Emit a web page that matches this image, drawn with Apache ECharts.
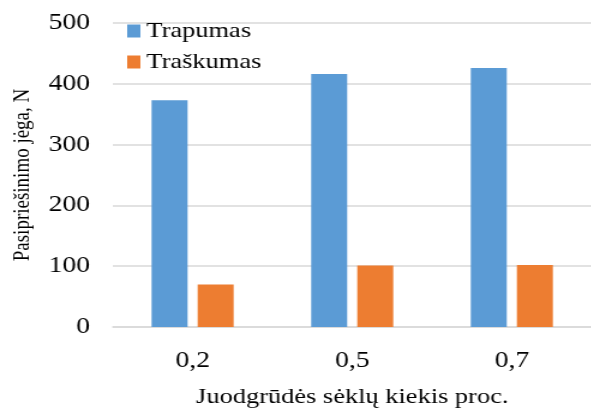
<!DOCTYPE html>
<html>
<head>
<meta charset="utf-8">
<script src="https://cdn.jsdelivr.net/npm/echarts@6/dist/echarts.min.js"></script>
<style>
  html, body { margin: 0; padding: 0; background: #fff; overflow: hidden; }
  /* the source figure is stretched sideways ~1.2x, so draw narrower and scale */
  #chart { width: 492.5px; height: 409px; transform: scaleX(1.2); transform-origin: 0 0; }
</style>
</head>
<body>
<div id="chart"></div>
<script>
const categories = ['0,2', '0,5', '0,7']
const trapumas = [373, 416, 426]
const traskumas = [70, 101, 102]
const yTicks = { min: 0, max: 500, interval: 100 }

const FONT = '"Liberation Serif", "Times New Roman", serif'

let chart = echarts.init(document.getElementById('chart'))
chart.setOption({
  animation: false,
  textStyle: { fontFamily: FONT, color: '#000' },
  legend: {
    orient: 'vertical',
    left: 101,
    top: 15,
    itemWidth: 11,
    itemHeight: 13,
    itemGap: 9,
    icon: 'rect',
    textStyle: { fontFamily: FONT, fontSize: 22, color: '#000', lineHeight: 22 },
    data: ['Trapumas', 'Traškumas']
  },
  grid: {
    left: 94,
    right: 0,
    top: 23,
    bottom: 82,
    outerBoundsMode: 'none'
  },
  xAxis: {
    type: 'category',
    data: categories,
    name: 'Juodgrūdės sėklų kiekis proc.',
    nameLocation: 'middle',
    nameGap: 59,
    nameTextStyle: { fontFamily: FONT, fontSize: 22, color: '#000' },
    axisLine: { lineStyle: { color: '#d9d9d9', width: 1.5 } },
    axisTick: { show: false },
    axisLabel: { margin: 22, fontFamily: FONT, fontSize: 23, color: '#000' }
  },
  yAxis: {
    type: 'value',
    min: yTicks.min,
    max: yTicks.max,
    interval: yTicks.interval,
    name: 'Pasipriešinimo jėga, N',
    nameLocation: 'middle',
    nameGap: 65,
    nameRotate: 90,
    nameTextStyle: { fontFamily: FONT, fontSize: 19, color: '#000' },
    axisLine: { show: false },
    axisTick: { show: false },
    splitLine: { lineStyle: { color: '#d9d9d9', width: 1.5 } },
    axisLabel: { margin: 19, fontFamily: FONT, fontSize: 23, color: '#000' }
  },
  series: [
    {
      name: 'Trapumas',
      type: 'bar',
      data: trapumas,
      barWidth: 30,
      barGap: '28%',
      itemStyle: { color: '#5b9bd5' }
    },
    {
      name: 'Traškumas',
      type: 'bar',
      data: traskumas,
      barWidth: 30,
      itemStyle: { color: '#ed7d31' }
    }
  ]
})
</script>
</body>
</html>
